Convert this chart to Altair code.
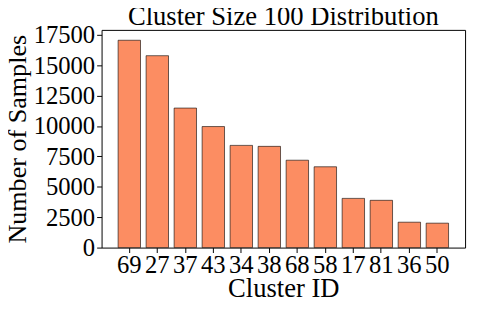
import altair as alt
import pandas as pd

cluster_ids = ["69", "27", "37", "43", "34", "38", "68", "58", "17", "81", "36", "50"]
samples = [17060, 15790, 11480, 9960, 8410, 8330, 7190, 6650, 4050, 3890, 2090, 2010]
y_ticks = [0, 2500, 5000, 7500, 10000, 12500, 15000, 17500]

df = pd.DataFrame({"cluster": cluster_ids, "count": samples})

FONT = "Liberation Serif"

chart = alt.Chart(df).mark_bar(
    color="#FC8D62", stroke="#000000", strokeOpacity=0.6, strokeWidth=1
).encode(
    x=alt.X("cluster:N", sort=cluster_ids,
            scale=alt.Scale(paddingInner=0.2, paddingOuter=0.59),
            axis=alt.Axis(title="Cluster ID", labelAngle=0, labelFontSize=25,
                          titleFontSize=27, labelPadding=0, titlePadding=-1,
                          labelFont=FONT, titleFont=FONT,
                          tickSize=5, tickColor="black", domain=False,
                          labelColor="black", titleColor="black", titleFontWeight="normal")),
    y=alt.Y("count:Q", scale=alt.Scale(domain=[0, 17913], nice=False),
            axis=alt.Axis(title="Number of Samples", values=y_ticks, format="d",
                          labelFontSize=25, labelFont=FONT, titleFont=FONT,
                          titleFontSize=26.5, labelPadding=2, titlePadding=2, grid=False,
                          tickSize=5, tickColor="black", domain=False,
                          labelColor="black", titleColor="black", titleFontWeight="normal")),
).properties(
    width=369, height=221,
    title=alt.TitleParams("Cluster Size 100 Distribution", fontSize=27, font=FONT,
                          fontWeight="normal", color="black", offset=4, dy=11.5,
                          frame="group"),
    autosize=alt.AutoSizeParams(type="none"),
    padding={"left": 95, "top": 20, "right": 5, "bottom": 53},
).configure_view(
    stroke="black", strokeWidth=1
)

chart.save("out.html", embed_options={"renderer": "svg", "actions": False})
